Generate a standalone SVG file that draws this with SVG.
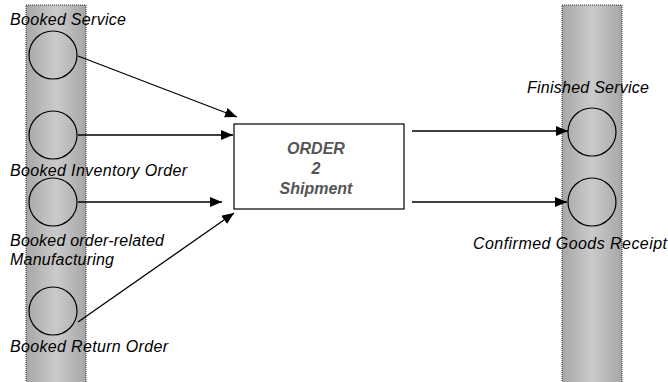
<svg xmlns="http://www.w3.org/2000/svg" width="668" height="382" viewBox="0 0 668 382">
<style>
.band{stroke:#333;stroke-width:1;stroke-dasharray:1 1}
.ev{fill:none;stroke:#000;stroke-width:1.2}
.lbl{font-family:"Liberation Sans",Arial,sans-serif;font-style:italic;font-size:16px;fill:#000}
.bt{font-family:"Liberation Sans",Arial,sans-serif;font-style:italic;font-weight:bold;font-size:16px;fill:#555;text-anchor:middle}
.cn{stroke:#000;stroke-width:1.3;fill:none;marker-end:url(#ah)}
</style>
<defs>
<linearGradient id="bg" x1="0" y1="0" x2="1" y2="0">
<stop offset="0" stop-color="#a6a6a6"/>
<stop offset="0.3" stop-color="#bdbdbd"/>
<stop offset="0.5" stop-color="#cacaca"/>
<stop offset="0.7" stop-color="#bdbdbd"/>
<stop offset="1" stop-color="#a6a6a6"/>
</linearGradient>
<marker id="ah" viewBox="0 0 12 10" refX="12" refY="5" markerWidth="12" markerHeight="10" markerUnits="userSpaceOnUse" orient="auto">
<path d="M0,0 L12,5 L0,10 Z" fill="#000"/>
</marker>
</defs>
<g id="band-left"><rect class="band" x="26" y="5" width="60" height="380" fill="url(#bg)"/></g>
<g id="band-right"><rect class="band" x="562" y="5" width="60" height="380" fill="url(#bg)"/></g>
<g id="booked-service"><circle class="ev" cx="53" cy="55" r="24"/><text class="lbl" x="10" y="25" textLength="116">Booked Service</text></g>
<g id="booked-inventory-order"><circle class="ev" cx="53" cy="135" r="24"/><text class="lbl" x="10" y="176" textLength="177">Booked Inventory  Order</text></g>
<g id="booked-order-related"><circle class="ev" cx="53" cy="202" r="24"/><text class="lbl" x="10" y="246" textLength="154">Booked order-related</text><text class="lbl" x="10" y="265" textLength="104">Manufacturing</text></g>
<g id="booked-return-order"><circle class="ev" cx="53" cy="311" r="24"/><text class="lbl" x="10" y="352" textLength="158">Booked Return  Order</text></g>
<g id="order2shipment"><rect x="234" y="124" width="170" height="85" fill="#fff" stroke="#000" stroke-width="1.2"/><text class="bt" x="316" y="154">ORDER</text><text class="bt" x="316" y="174">2</text><text class="bt" x="316" y="194">Shipment</text></g>
<g id="finished-service"><circle class="ev" cx="592" cy="132" r="24"/><text class="lbl" x="527" y="93" textLength="122">Finished Service</text></g>
<g id="confirmed-goods-receipt"><circle class="ev" cx="592" cy="202" r="24"/><text class="lbl" x="473" y="249" textLength="194">Confirmed Goods  Receipt</text></g>
<g id="connectors">
<line class="cn" x1="78" y1="56" x2="237" y2="117"/>
<line class="cn" x1="78" y1="135" x2="233" y2="135"/>
<line class="cn" x1="78" y1="202" x2="222" y2="202"/>
<line class="cn" x1="78" y1="322" x2="234" y2="213"/>
<line class="cn" x1="412" y1="131" x2="568" y2="131"/>
<line class="cn" x1="412" y1="202" x2="567" y2="202"/>
</g>
</svg>
